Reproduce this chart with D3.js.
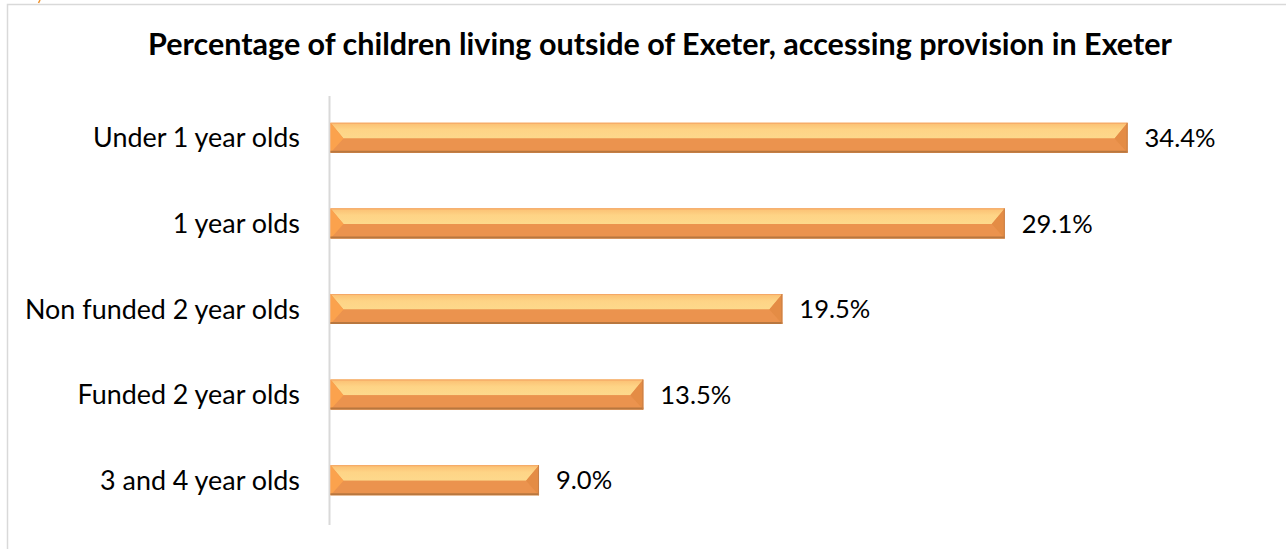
<!DOCTYPE html>
<html>
<head>
<meta charset="utf-8">
<script src="https://cdn.jsdelivr.net/npm/d3@7"></script>
<style>
  html, body { margin: 0; padding: 0; background: #fff; }
  svg { display: block; }
</style>
</head>
<body>
<svg id="chart" width="1286" height="549"></svg>
<script>
// ---- data ----
const title = "Percentage of children living outside of Exeter, accessing provision in Exeter";
const categories = ["Under 1 year olds", "1 year olds", "Non funded 2 year olds", "Funded 2 year olds", "3 and 4 year olds"];
const values = [34.4, 29.1, 19.5, 13.5, 9.0];
const valueLabels = ["34.4%", "29.1%", "19.5%", "13.5%", "9.0%"];

// ---- layout ----
const W = 1286, H = 549;
const FONT = "Lato, 'Open Sans', 'Liberation Sans', sans-serif";
const svg = d3.select("#chart");

const defs = svg.append("defs");
const gTop = defs.append("linearGradient").attr("id", "topFace").attr("x1", 0).attr("y1", 0).attr("x2", 0).attr("y2", 1);
gTop.append("stop").attr("offset", "0%").attr("stop-color", "#fbbf72");
gTop.append("stop").attr("offset", "45%").attr("stop-color", "#fed486");
gTop.append("stop").attr("offset", "100%").attr("stop-color", "#fdd98c");

// chart border
svg.append("rect")
  .attr("x", 7.5).attr("y", 4.5).attr("width", W + 20).attr("height", H + 20)
  .attr("fill", "none").attr("stroke", "#d9d9d9").attr("stroke-width", 1.5);

// tiny orange fragment top-left
svg.append("line").attr("x1", 40).attr("y1", 0).attr("x2", 38.5).attr("y2", 3)
  .attr("stroke", "#f0932e").attr("stroke-width", 1.5);

const x = d3.scaleLinear().domain([0, 35]).range([330.5, 330.5 + 35 * 23.17]);
const y = d3.scaleBand().domain(categories).range([95, 523]).paddingInner(0.65).paddingOuter(0.325);

// title
const titleEl = svg.append("text")
  .attr("x", 660).attr("y", 55)
  .attr("text-anchor", "middle")
  .attr("font-family", FONT).attr("font-weight", "bold").attr("font-size", 22)
  .attr("fill", "#000")
  .text(title);
function fit(sel, target) {
  sel.each(function () {
    const el = d3.select(this);
    const fs = +el.attr("font-size");
    const w = this.getComputedTextLength();
    if (w > 0) el.attr("font-size", (fs * target / w).toFixed(2));
  });
}
fit(titleEl, 1024);

// axis line (category axis)
const yAxis = d3.axisLeft(y).tickSize(0).tickPadding(0).tickFormat("");
const axG = svg.append("g").attr("transform", `translate(${x(0) - 1},0)`).call(yAxis);
axG.select(".domain").attr("stroke", "#d9d9d9").attr("stroke-width", 2)
  .attr("d", `M0,96V525`);

// category labels
const catG = svg.append("g");
const catText = catG.selectAll("text").data(categories).join("text")
  .attr("x", 300)
  .attr("text-anchor", "end")
  .attr("font-family", FONT).attr("font-size", 20)
  .attr("fill", "#000")
  .text(d => d);
// fit size using longest label
const probe = catText.filter(d => d === "Non funded 2 year olds");
const fsBase = 20;
const wProbe = probe.node().getComputedTextLength();
const catFs = fsBase * 275 / wProbe;
catText.attr("font-size", catFs.toFixed(2))
  .attr("y", d => y(d) + y.bandwidth() / 2 + catFs * 0.36);

// bars with bevel
const bev = 13;
const barG = svg.append("g");
const bars = barG.selectAll("g").data(values).join("g");
bars.each(function (v, i) {
  const g = d3.select(this);
  const x0 = x(0), x1 = x(v);
  const y0 = y(categories[i]), y1 = y0 + y.bandwidth();
  const ym = y0 + y.bandwidth() * 0.52;
  // base
  g.append("rect").attr("x", x0).attr("y", y0).attr("width", x1 - x0).attr("height", y1 - y0).attr("fill", "#ec9550");
  // upper face
  g.append("path").attr("d", `M${x0},${y0}L${x1},${y0}L${x1 - bev},${ym}L${x0 + bev},${ym}Z`).attr("fill", "url(#topFace)");
  // lower face
  g.append("path").attr("d", `M${x0 + bev},${ym}L${x1 - bev},${ym}L${x1},${y1}L${x0},${y1}Z`).attr("fill", "#eb934e");
  // left face
  g.append("path").attr("d", `M${x0},${y0}L${x0 + bev},${ym}L${x0},${y1}Z`).attr("fill", "#fba24d");
  // right face
  g.append("path").attr("d", `M${x1},${y0}L${x1 - bev},${ym}L${x1},${y1}Z`).attr("fill", "#e48c45");
  // top edge
  g.append("line").attr("x1", x0).attr("x2", x1).attr("y1", y0 + 0.5).attr("y2", y0 + 0.5).attr("stroke", "#f5a866").attr("stroke-width", 1);
  // bottom edge
  g.append("line").attr("x1", x0).attr("x2", x1).attr("y1", y1 - 1).attr("y2", y1 - 1).attr("stroke", "#b8773f").attr("stroke-width", 2);
  // right edge
  g.append("line").attr("x1", x1 - 0.5).attr("x2", x1 - 0.5).attr("y1", y0).attr("y2", y1).attr("stroke", "#c98048").attr("stroke-width", 1);
});

// value labels
const valText = svg.append("g").selectAll("text").data(values).join("text")
  .attr("x", d => x(d) + 17)
  .attr("text-anchor", "start")
  .attr("font-family", FONT).attr("font-size", 20)
  .attr("fill", "#000")
  .text((d, i) => valueLabels[i]);
const wv = valText.filter((d, i) => i === 0).node().getComputedTextLength();
const valFs = 20 * 71 / wv;
valText.attr("font-size", valFs.toFixed(2))
  .attr("y", (d, i) => y(categories[i]) + y.bandwidth() / 2 + valFs * 0.36);
</script>
</body>
</html>
